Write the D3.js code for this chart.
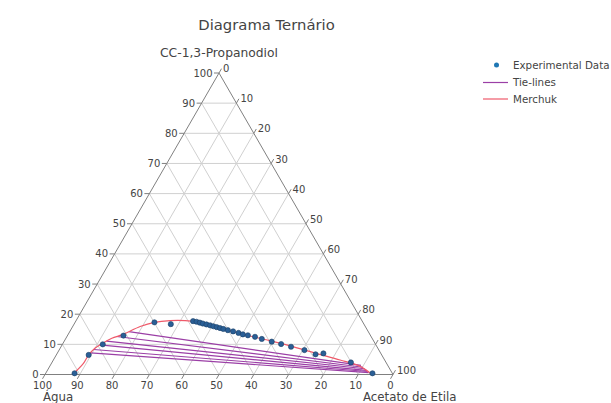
<!DOCTYPE html>
<html>
<head>
<meta charset="utf-8">
<script src="https://cdn.jsdelivr.net/npm/d3@7"></script>
<style>
  body { margin: 0; background: #fff; }
  svg { font-family: "DejaVu Sans", Verdana, sans-serif; }
</style>
</head>
<body>
<div id="container"></div>
<script>
/* CONSTANTS AND GLOBALS */
const width = 611;
const height = 403;

/* DATA (in %) */
// axis names
const axisA = "CC-1,3-Propanodiol";
const axisB = "Água";
const axisC = "Acetato de Etila";
const ticks = [0, 10, 20, 30, 40, 50, 60, 70, 80, 90, 100];

// experimental points
const expPropanodiol = [0.4, 6.5, 10.0, 12.9, 17.3, 16.7, 17.7, 17.5, 17.2, 16.9, 16.6, 16.3, 16.0, 15.7, 15.4, 15.1, 14.7, 14.3, 13.8, 13.3, 13.0, 12.5, 11.8, 10.9, 10.1, 9.2, 8.1, 6.7, 7.0, 4.0, 0.4];
const expAgua        = [91.3, 84.2, 78.4, 71.0, 59.9, 55.5, 48.6, 47.7, 46.9, 46.2, 45.3, 44.4, 43.6, 42.8, 42.0, 41.2, 40.1, 38.8, 37.5, 36.5, 35.2, 33.4, 31.8, 29.4, 27.1, 24.7, 21.4, 18.9, 16.5, 10.1, 5.7];
const expAcetato     = [8.3, 9.3, 11.6, 16.1, 22.8, 27.8, 33.7, 34.8, 35.9, 36.9, 38.1, 39.3, 40.4, 41.5, 42.6, 43.7, 45.2, 46.9, 48.7, 50.2, 51.8, 54.1, 56.4, 59.7, 62.8, 66.1, 70.5, 74.4, 76.5, 85.9, 93.9];

// tie-lines: left end (aqueous phase) and right end (organic phase)
const tieLeftPropanodiol  = [14.2, 12.6, 11.1, 9.8, 8.3, 7.2];
const tieLeftAgua         = [68.8, 73.1, 76.8, 79.4, 81.9, 83.3];
const tieLeftAcetato      = [17.0, 14.3, 12.1, 10.8, 9.8, 9.5];
const tieRightPropanodiol = [3.0, 2.4, 1.9, 1.4, 1.0, 0.6];
const tieRightAgua        = [7.7, 7.4, 7.2, 7.0, 6.8, 6.7];
const tieRightAcetato     = [89.3, 90.2, 90.9, 91.6, 92.2, 92.7];

// Merchuk fitted binodal curve
const merPropanodiol = [0, 3.7, 6.5, 8.7, 10.4, 12.0, 13.3, 15.9, 17.3, 17.9, 17.9, 17.4, 15.8, 13.6, 11.6, 9.5, 7.1, 4.8, 2.7, 0];
const merAgua        = [92.1, 87.1, 84.2, 81.3, 78.2, 74.8, 70.9, 64.7, 59.9, 55.1, 50.8, 47.6, 43.2, 37.2, 31.0, 24.8, 18.9, 12.8, 8.1, 6.0];
const merAcetato     = [7.9, 9.2, 9.3, 10.0, 11.4, 13.2, 15.8, 19.4, 22.8, 27.0, 31.3, 35.0, 41.0, 49.2, 57.4, 65.7, 74.0, 82.4, 89.2, 94.0];

/* TRIANGLE GEOMETRY */
const triLeft = 45, triRight = 393, triBottom = 374.5, triTop = 73;

/** scales: a -> vertical, (c + a/2) -> horizontal */
const yScale = d3.scaleLinear().domain([0, 100]).range([triBottom, triTop]);
const xScale = d3.scaleLinear().domain([0, 100]).range([triLeft, triRight]);

function project(a, b, c) {
  const s = a + b + c;
  a = a / s * 100; c = c / s * 100;
  return [xScale(c + a / 2), yScale(a)];
}

const svg = d3.select("#container")
  .append("svg")
  .attr("width", width)
  .attr("height", height);

/** grid lines */
const grid = svg.append("g")
  .attr("stroke", "#d0d0d0")
  .attr("stroke-width", 1)
  .attr("fill", "none");

ticks.filter(t => t > 0 && t < 100).forEach(t => {
  // constant a (horizontal)
  const a1 = project(t, 100 - t, 0), a2 = project(t, 0, 100 - t);
  grid.append("line").attr("x1", a1[0]).attr("y1", a1[1]).attr("x2", a2[0]).attr("y2", a2[1]);
  // constant b
  const b1 = project(0, t, 100 - t), b2 = project(100 - t, t, 0);
  grid.append("line").attr("x1", b1[0]).attr("y1", b1[1]).attr("x2", b2[0]).attr("y2", b2[1]);
  // constant c
  const c1 = project(0, 100 - t, t), c2 = project(100 - t, 0, t);
  grid.append("line").attr("x1", c1[0]).attr("y1", c1[1]).attr("x2", c2[0]).attr("y2", c2[1]);
});

/** triangle outline */
const pA = project(100, 0, 0), pB = project(0, 100, 0), pC = project(0, 0, 100);
svg.append("path")
  .attr("d", `M${pA}L${pB}L${pC}Z`)
  .attr("fill", "none")
  .attr("stroke", "#808080")
  .attr("stroke-width", 1);

/** ticks and tick labels */
const tickLen = 5;
const tickG = svg.append("g")
  .attr("font-size", 10)
  .attr("fill", "#444");

ticks.forEach(t => {
  // a axis (left edge, ticks point left)
  const pa = project(t, 100 - t, 0);
  tickG.append("line")
    .attr("x1", pa[0]).attr("y1", pa[1]).attr("x2", pa[0] - tickLen).attr("y2", pa[1])
    .attr("stroke", "#808080");
  tickG.append("text")
    .attr("x", pa[0] - tickLen - 1.5).attr("y", pa[1])
    .attr("text-anchor", "end").attr("dy", "0.35em")
    .text(t);

  // b axis (bottom edge, ticks point down-left)
  const pb = project(0, t, 100 - t);
  const bx = pb[0] - tickLen * 0.5, by = pb[1] + tickLen * 0.866;
  tickG.append("line")
    .attr("x1", pb[0]).attr("y1", pb[1]).attr("x2", bx).attr("y2", by)
    .attr("stroke", "#808080");
  tickG.append("text")
    .attr("x", bx).attr("y", by + 10.5)
    .attr("text-anchor", "middle")
    .text(t);

  // c axis (right edge, ticks point up-right)
  const pc = project(100 - t, 0, t);
  const cx = pc[0] + tickLen * 0.5, cy = pc[1] - tickLen * 0.866;
  tickG.append("line")
    .attr("x1", pc[0]).attr("y1", pc[1]).attr("x2", cx).attr("y2", cy)
    .attr("stroke", "#808080");
  tickG.append("text")
    .attr("x", cx + 1.5).attr("y", cy)
    .attr("dy", "0.35em")
    .text(t);
});

/** axis titles */
svg.append("text")
  .attr("x", pA[0]).attr("y", 57)
  .attr("text-anchor", "middle")
  .attr("font-size", 12.3).attr("fill", "#444")
  .text(axisA);

svg.append("text")
  .attr("x", 43).attr("y", 401)
  .attr("font-size", 11.8).attr("fill", "#444")
  .text(axisB);

svg.append("text")
  .attr("x", 363).attr("y", 401)
  .attr("font-size", 11.8).attr("fill", "#444")
  .text(axisC);

/** chart title */
svg.append("text")
  .attr("x", 266.5).attr("y", 30)
  .attr("text-anchor", "middle")
  .attr("font-size", 14.8).attr("fill", "#444")
  .text("Diagrama Ternário");

/* MARKS */
const line = d3.line();

/** tie-lines */
svg.append("g")
  .selectAll("path")
  .data(tieLeftPropanodiol.map((d, i) => [
    project(tieLeftPropanodiol[i], tieLeftAgua[i], tieLeftAcetato[i]),
    project(tieRightPropanodiol[i], tieRightAgua[i], tieRightAcetato[i])
  ]))
  .join("path")
    .attr("d", line)
    .attr("fill", "none")
    .attr("stroke", "#9b3fa6")
    .attr("stroke-width", 1.2);

/** Merchuk curve */
const merPoints = merPropanodiol.map((d, i) => project(merPropanodiol[i], merAgua[i], merAcetato[i]));
svg.append("path")
  .datum(merPoints)
  .attr("d", d3.line().curve(d3.curveCatmullRom))
  .attr("fill", "none")
  .attr("stroke", "#ef5a6a")
  .attr("stroke-width", 1.2);

/** experimental points */
svg.append("g")
  .selectAll("circle")
  .data(expPropanodiol.map((d, i) => project(expPropanodiol[i], expAgua[i], expAcetato[i])))
  .join("circle")
    .attr("cx", d => d[0])
    .attr("cy", d => d[1])
    .attr("r", 2.6)
    .attr("fill", "#2a5f96")
    .attr("stroke", "#1d3f66")
    .attr("stroke-width", 0.6);

/* LEGEND */
const legend = svg.append("g")
  .attr("font-size", 10.3)
  .attr("fill", "#444");

legend.append("circle")
  .attr("cx", 496.5).attr("cy", 65).attr("r", 2.5)
  .attr("fill", "#1f77b4");
legend.append("text").attr("x", 513).attr("y", 65).attr("dy", "0.35em").text("Experimental Data");

legend.append("line")
  .attr("x1", 483).attr("x2", 508).attr("y1", 82.5).attr("y2", 82.5)
  .attr("stroke", "#9b3fa6").attr("stroke-width", 1.2);
legend.append("text").attr("x", 513).attr("y", 82.5).attr("dy", "0.35em").text("Tie-lines");

legend.append("line")
  .attr("x1", 483).attr("x2", 508).attr("y1", 99).attr("y2", 99)
  .attr("stroke", "#ef5a6a").attr("stroke-width", 1.2);
legend.append("text").attr("x", 513).attr("y", 99).attr("dy", "0.35em").text("Merchuk");
</script>
</body>
</html>
